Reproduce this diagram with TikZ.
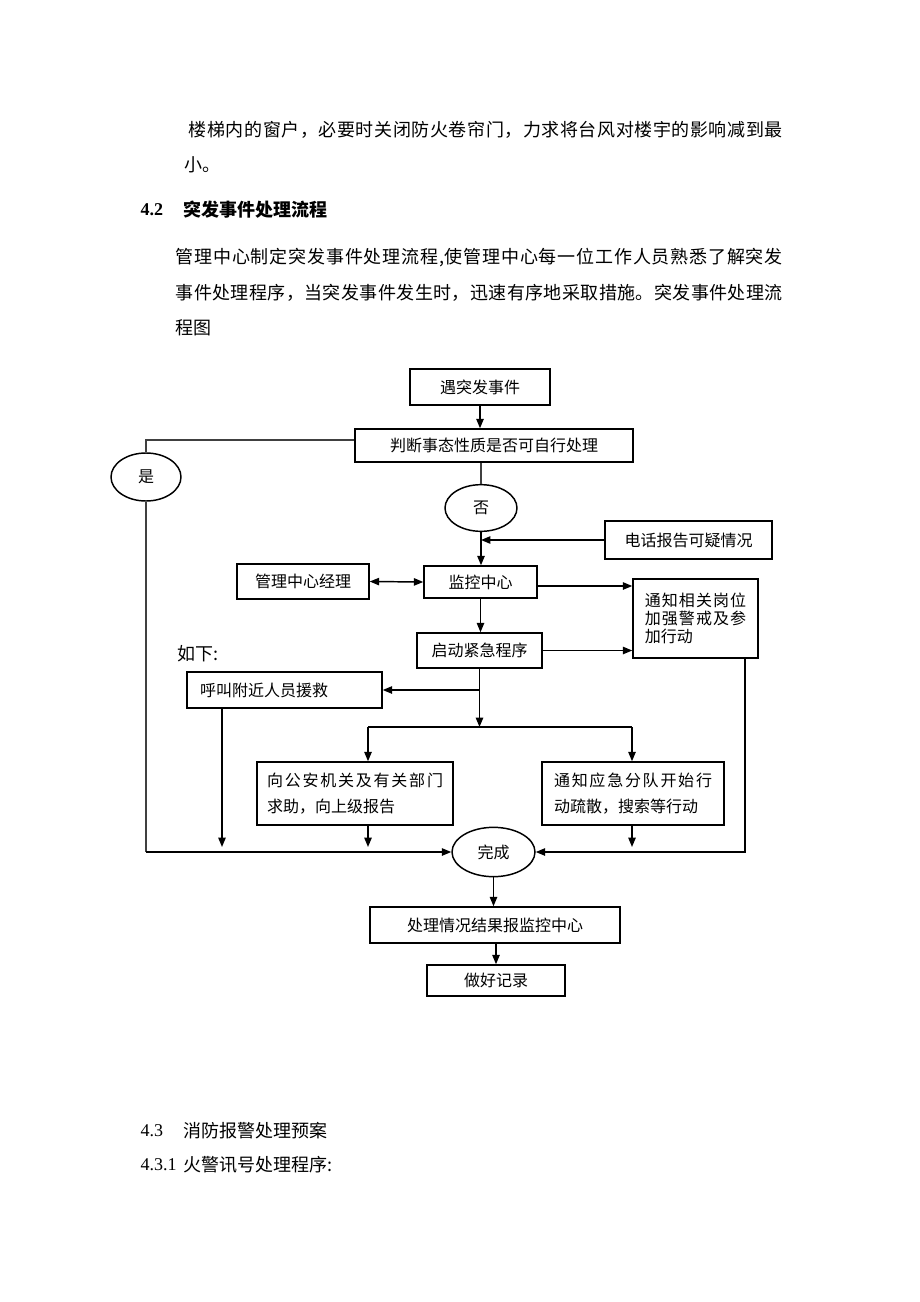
\documentclass[tikz,border=0pt]{standalone}
\usepackage{fontspec}
\setmainfont{Noto Sans CJK SC}
\newfontfamily\numfont{Liberation Serif}
\usetikzlibrary{arrows.meta,shapes.geometric}

\makeatletter
\def\spread@#1{\ifx#1\relax\else#1\hfil\expandafter\spread@\fi}
\newcommand\spreadline[2]{\leavevmode\hbox to #1{\spread@#2\relax\unskip}}
\makeatother

\newcommand\diagfont{\fontsize{12}{14}\selectfont}
\newcommand\bodyfont{\fontsize{13.5}{16}\selectfont}

\tikzset{every picture/.style={line width=1.1pt}}
\tikzset{
  box/.style={draw, inner sep=0pt, font=\diagfont},
  oval/.style={draw, ellipse, inner sep=0pt, font=\diagfont},
  txt/.style={anchor=west, inner sep=0pt, font=\bodyfont},
  arr/.style={-{Triangle[length=7pt,width=5.5pt]}},
  dblarr/.style={{Triangle[length=7pt,width=5.5pt]}-{Triangle[length=7pt,width=5.5pt]}},
  thin line/.style={line width=0.8pt, draw=black!75}
}

\begin{document}
\begin{tikzpicture}[x=0.75pt,y=0.75pt,yscale=-1,xscale=1]
    \useasboundingbox (0,0) rectangle (920,1302);

    % text above the chart
    \node[txt] (p1) at (188,130) {\spreadline{445.5pt}{楼梯内的窗户，必要时关闭防火卷帘门，力求将台风对楼宇的影响减到最}};
    \node[txt] (p2) at (184,165) {小。};
    \node[txt, font=\bodyfont\numfont\bfseries] (h42n) at (140,210) {4.2};
    \node[txt, font=\bodyfont\bfseries] (h42) at (183,210) {突发事件处理流程};
    \node[txt] (p3) at (175,258) {\spreadline{455.25pt}{管理中心制定突发事件处理流程,使管理中心每一位工作人员熟悉了解突发}};
    \node[txt] (p4) at (175,293) {\spreadline{455.25pt}{事件处理程序，当突发事件发生时，迅速有序地采取措施。突发事件处理流}};
    \node[txt] (p5) at (175,328) {程图};
    \node[txt] (ruxia) at (177,654) {如下:};

    % chart
    \node[box, minimum width=105pt, minimum height=27pt] (yu) at (480,387) {遇突发事件};
    \node[box, minimum width=208.5pt, minimum height=24.75pt] (pd) at (494,445.5) {判断事态性质是否可自行处理};
    \node[oval, minimum width=52.5pt, minimum height=36pt] (shi) at (146,477) {是};
    \node[oval, minimum width=54pt, minimum height=35pt] (fou) at (481,508) {否};
    \node[box, minimum width=125.25pt, minimum height=28.5pt] (dh) at (688.5,540) {电话报告可疑情况};
    \node[box, minimum width=99pt, minimum height=26.25pt] (jl) at (303,581.5) {管理中心经理};
    \node[box, minimum width=84.75pt, minimum height=24pt] (jk) at (480.5,582) {监控中心};
    \node[box, minimum width=93.75pt, minimum height=59.25pt, align=left, font=\fontsize{12}{13.7}\selectfont] (tz) at (695.5,618.5)
        {\spreadline{76pt}{通知相关岗位}\\\spreadline{76pt}{加强警戒及参}\\加行动};
    \node[box, minimum width=93.75pt, minimum height=26.25pt] (qd) at (479.5,650.5) {启动紧急程序};
    \node[box, minimum width=146.25pt, minimum height=27pt, align=left, text width=126.75pt, inner xsep=9.75pt] (hj) at (284.5,690) {呼叫附近人员援救};
    \node[box, minimum width=147pt, minimum height=47.25pt, align=left, font=\fontsize{12}{19.5}\selectfont] (ga) at (355,793.5)
        {\spreadline{132pt}{向公安机关及有关部门}\\求助，向上级报告};
    \node[box, minimum width=136.5pt, minimum height=47.25pt, align=left, font=\fontsize{12}{19.5}\selectfont] (yj) at (633,793.5)
        {\spreadline{118.5pt}{通知应急分队开始行}\\动疏散，搜索等行动};
    \node[oval, minimum width=62.25pt, minimum height=37pt] (wc) at (493.5,852) {完成};
    \node[box, minimum width=187.5pt, minimum height=27pt] (cl) at (495,925) {处理情况结果报监控中心};
    \node[box, minimum width=103.5pt, minimum height=23.25pt] (jlu) at (496,980.5) {做好记录};

    \coordinate (ytop) at (146,440);
    \coordinate (ybot) at (146,852);
    \coordinate (split) at (480,727);
    \coordinate (gaT) at (368,727);
    \coordinate (yjT) at (632,727);
    \coordinate (hjE) at (222,847);
    \coordinate (rb) at (745,852);

    \draw[arr] (yu.south) -- (yu.south |- pd.north);
    \draw[thin line] (pd.west |- ytop) -- (ytop) -- (shi.north);
    \draw[thin line] (shi.south) -- (ybot);
    \draw[arr] (ybot) -- (wc.west);
    \draw[thin line] (fou.north |- pd.south) -- (fou.north);
    \draw[arr] (fou.south) -- (fou.south |- jk.north);
    \draw[arr] (dh.west) -- (fou.south |- dh.west);
    \draw[dblarr] (jl.east) -- (jk.west);
    \draw[arr] (jk.east |- 0,586) -- (tz.west |- 0,586);
    \draw[arr] (jk.south) -- (jk.south |- qd.north);
    \draw[arr] (qd.east) -- (tz.west |- qd.east);
    \draw[arr] (qd.south) -- (qd.south |- split);
    \draw[arr] (qd.south |- hj.east) -- (hj.east);
    \draw (gaT) -- (yjT);
    \draw[arr] (gaT) -- (gaT |- ga.north);
    \draw[arr] (yjT) -- (yjT |- yj.north);
    \draw[arr] (hj.south -| hjE) -- (hjE);
    \draw[arr] (ga.south -| gaT) -- (gaT |- hjE);
    \draw[arr] (yj.south -| yjT) -- (yjT |- hjE);
    \draw[arr] (tz.south -| rb) -- (rb) -- (wc.east);
    \draw[arr] (wc.south) -- (wc.south |- cl.north);
    \draw[arr] (jlu.north |- cl.south) -- (jlu.north);

    % text below the chart
    \node[txt, font=\bodyfont\numfont] (h43n) at (140,1131) {4.3};
    \node[txt] (h43) at (183,1131) {消防报警处理预案};
    \node[txt, font=\bodyfont\numfont] (h431n) at (140,1165) {4.3.1};
    \node[txt] (h431) at (183,1165) {火警讯号处理程序:};
\end{tikzpicture}
\end{document}
